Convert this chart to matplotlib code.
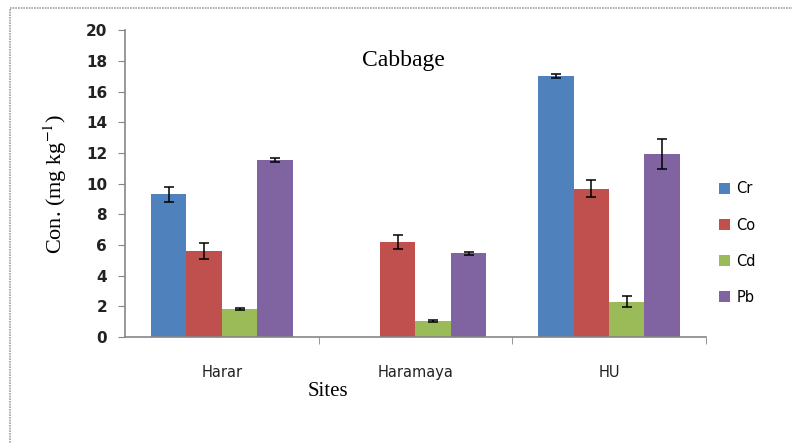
import matplotlib
matplotlib.use("Agg")
import matplotlib.pyplot as plt
import numpy as np
from matplotlib.patches import Rectangle

plt.rcParams['mathtext.fontset'] = 'stix'

sites = ['Harar', 'Haramaya', 'HU']
metals = ['Cr', 'Co', 'Cd', 'Pb']
colors = ['#4F81BD', '#C0504D', '#9BBB59', '#8064A2']

cr = [9.3, 0.0, 17.02]
co = [5.6, 6.2, 9.68]
cd = [1.82, 1.06, 2.3]
pb = [11.53, 5.45, 11.92]

cr_err = [0.5, 0.0, 0.15]
co_err = [0.5, 0.45, 0.55]
cd_err = [0.08, 0.05, 0.35]
pb_err = [0.15, 0.1, 0.97]

fig = plt.figure(figsize=(7.92, 4.43), dpi=100)
fig.patches.append(Rectangle((0.013, -0.1), 1.1, 1.083, transform=fig.transFigure,
                             fill=False, edgecolor='#a0a0a0', lw=1.2, ls=(0, (1, 0.6))))
ax = fig.add_axes([0.158, 0.239, 0.733, 0.693])

x = np.arange(len(sites))
w = 0.183
vals = [cr, co, cd, pb]
errs = [cr_err, co_err, cd_err, pb_err]
for i in range(4):
    xs = x + (i - 1.5) * w
    ax.bar(xs, vals[i], w, color=colors[i], label=metals[i])
    v = np.array(vals[i])
    e = np.array(errs[i])
    m = v > 0
    ax.errorbar(xs[m], v[m], yerr=e[m], fmt='none', ecolor='black', elinewidth=1.1,
                capsize=3.5, capthick=1.1)

ax.set_xlim(-0.5, 2.5)
ax.set_ylim(0, 20)
ax.set_yticks(range(0, 21, 2))
ax.set_xticks(x)
ax.set_xticklabels(sites)
ax.set_xticks([0.5, 1.5, 2.5], minor=True)
ax.tick_params(axis='x', which='major', length=0, pad=20, labelsize=10.5, labelcolor='#222222')
ax.tick_params(axis='x', which='minor', length=5, color='#868686', direction='out')
ax.tick_params(axis='y', length=5, color='#868686', pad=8, labelsize=11, labelcolor='#222222')
for lab in ax.get_yticklabels():
    lab.set_fontweight('bold')

for s in ['top', 'right']:
    ax.spines[s].set_visible(False)
for s in ['left', 'bottom']:
    ax.spines[s].set_color('#868686')
    ax.spines[s].set_linewidth(1.2)

ax.text(0.48, 0.9, 'Cabbage', transform=ax.transAxes, ha='center', va='center',
        family='Liberation Serif', fontsize=17)
ax.set_ylabel(r'Con. (mg kg$^{\mathrm{-1}}$)', family='Liberation Serif', fontsize=16, labelpad=12)
fig.text(0.414, 0.117, 'Sites', ha='center', va='center', family='Liberation Serif', fontsize=15)

ax.legend(loc='center left', bbox_to_anchor=(1.0, 0.306), frameon=False, fontsize=10.5,
          labelspacing=1.45, handlelength=0.8, handleheight=0.8, handletextpad=0.4)

fig.savefig('out.png', dpi=100)
